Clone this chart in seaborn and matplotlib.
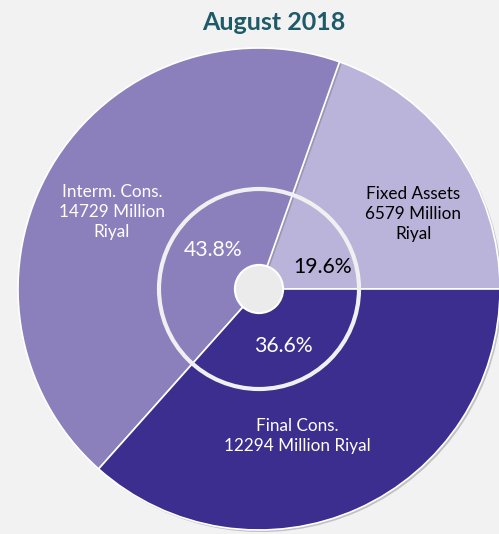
import numpy as np
import seaborn as sns
from matplotlib import pyplot as plt
from matplotlib import patheffects as pe
from matplotlib.patches import Circle

TITLE = 'August 2018'
CATEGORIES = ['Fixed Assets', 'Interm. Cons.', 'Final Cons.']
VALUES = [6579, 14729, 12294]
PERCENTS = ['19.6%', '43.8%', '36.6%']
LABELS = ['Fixed Assets\n6579 Million\nRiyal',
          'Interm. Cons.\n14729 Million\nRiyal',
          'Final Cons.\n12294 Million Riyal']
COLORS = ['#BAB3DA', '#8B80BC', '#3B2E8E']
TEXT_COLORS = ['black', 'white', 'white']

# label positions (data units, pie radius = 1)
LABEL_POS = [(0.64, 0.31), (-0.61, 0.32), (0.16, -0.61)]
PCT_POS = [(0.265, 0.09), (-0.19, 0.16), (0.10, -0.235)]


def main():
    sns.set_theme(style='white')
    plt.rcParams['font.family'] = ['Lato', 'DejaVu Sans']
    bg = '#F2F2F2'

    fig = plt.figure(figsize=(4.99, 5.34), dpi=100)
    fig.patch.set_facecolor(bg)
    ax = fig.add_axes([0, 0, 1, 1])
    ax.set_facecolor(bg)

    # pie centre at (259, 289) px, radius 241 px
    px = 241.0
    wedges, _ = ax.pie(VALUES, colors=COLORS, startangle=0, counterclock=True,
                       radius=1.0, center=(0, 0), frame=True,
                       wedgeprops=dict(edgecolor='white', linewidth=1.2))
    for w in wedges:
        w.set_path_effects([pe.SimplePatchShadow(offset=(1.5, -1.5), shadow_rgbFace='#555555', alpha=0.3),
                            pe.Normal()])
    ax.set_xlim(-259 / px, (499 - 259) / px)
    ax.set_ylim(-(534 - 289) / px, 289 / px)
    ax.set_aspect('equal')
    ax.axis('off')

    # inner ring and hole
    ax.add_patch(Circle((0, 0), 0.415, fill=False, edgecolor='#F0F0F0', linewidth=3.0, zorder=3))
    hole = Circle((0, 0), 0.1, facecolor='#EBEBEB', edgecolor='white', linewidth=1.5, zorder=4)
    hole.set_path_effects([pe.SimplePatchShadow(offset=(0.8, -0.8), shadow_rgbFace='#444444', alpha=0.3),
                           pe.Normal()])
    ax.add_patch(hole)

    for lab, (x, y), c in zip(LABELS, LABEL_POS, TEXT_COLORS):
        ax.text(x, y, lab, ha='center', va='center', color=c, fontsize=12.3,
                linespacing=1.3, zorder=5)
    for pct, (x, y), c in zip(PERCENTS, PCT_POS, TEXT_COLORS):
        ax.text(x, y, pct, ha='center', va='center', color=c, fontsize=15.3, zorder=5)

    fig.text(274 / 499, 1 - 23 / 534, TITLE, ha='center', va='center', color='#1F5A68',
             fontsize=18, fontweight='bold')

    fig.savefig('out.png', dpi=100, facecolor=bg)


if __name__ == '__main__':
    main()
